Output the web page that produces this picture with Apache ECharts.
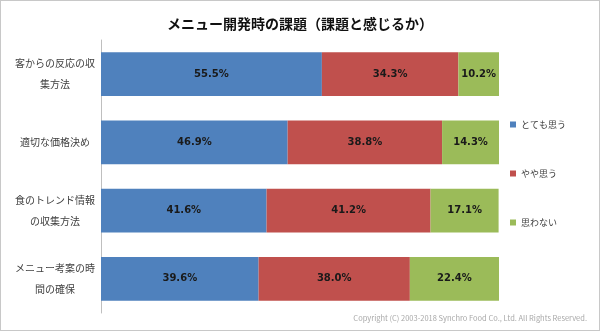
<!DOCTYPE html>
<html><head><meta charset="utf-8">
<script src="https://cdn.jsdelivr.net/npm/echarts@6/dist/echarts.min.js"></script>
<style>html,body{margin:0;padding:0;background:#fff}#c{width:600px;height:331px;box-sizing:border-box;border:1px solid #c8c8c8}</style>
</head><body><div id="c"></div>
<script>
const categories = ['客からの反応の収集方法', '適切な価格決め', '食のトレンド情報の収集方法', 'メニュー考案の時間の確保'];
const seriesNames = ['とても思う', 'やや思う', '思わない'];
const strongly = [55.5, 46.9, 41.6, 39.6];
const somewhat = [34.3, 38.8, 41.2, 38.0];
const notAtAll = [10.2, 14.3, 17.1, 22.4];
const colors = ['#4F81BD', '#C0504D', '#9BBB59'];
const FONT = '"Noto Sans CJK JP", sans-serif';

const chart = echarts.init(document.getElementById('c'));
const mk = (name, data, color) => ({
  name, type: 'bar', stack: 'a', data, barWidth: '64%',
  itemStyle: { color },
  label: { show: true, position: 'inside', formatter: p => p.value.toFixed(1) + '%',
    color: '#1a1a1a', fontWeight: 'bold', fontSize: 10, fontFamily: 'Verdana, "DejaVu Sans", sans-serif' }
});
chart.setOption({
  animation: false,
  textStyle: { fontFamily: FONT },
  title: { text: 'メニュー開発時の課題（課題と感じるか）', left: 'center', top: 11,
    textStyle: { fontSize: 14, fontWeight: 'bold', color: '#111', fontFamily: FONT } },
  grid: { left: 100, right: 100, top: 39, bottom: 17 },
  legend: { orient: 'vertical', left: 504, top: 114, itemGap: 40, itemWidth: 6, itemHeight: 6,
    icon: 'rect', textStyle: { fontSize: 9, color: '#404040', fontFamily: FONT }, data: seriesNames },
  xAxis: { type: 'value', min: 0, max: 100, show: false },
  yAxis: { type: 'category', inverse: true, data: categories,
    axisLine: { lineStyle: { color: '#bfbfbf' } }, axisTick: { show: false },
    axisLabel: { margin: 46, fontSize: 10, color: '#404040', lineHeight: 21, align: 'center',
      formatter: v => v.length > 8 ? v.slice(0, 8) + '\n' + v.slice(8) : v } },
  graphic: [{ type: 'text', right: 12, bottom: 8,
    style: { text: 'Copyright (C) 2003-2018 Synchro Food Co., Ltd. All Rights Reserved.', fontSize: 7.5, fill: '#a8a8a8', fontFamily: FONT } }],
  series: [mk(seriesNames[0], strongly, colors[0]), mk(seriesNames[1], somewhat, colors[1]), mk(seriesNames[2], notAtAll, colors[2])]
});
</script></body></html>
